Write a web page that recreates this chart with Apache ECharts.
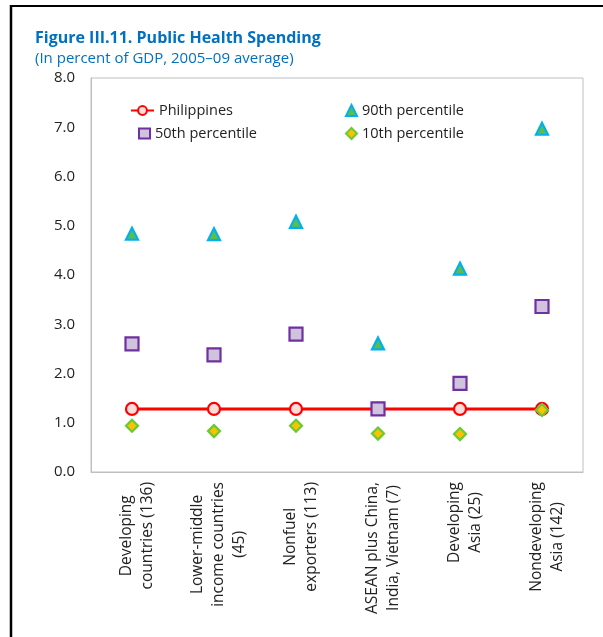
<!DOCTYPE html>
<html><head><meta charset="utf-8">
<script src="https://cdn.jsdelivr.net/npm/echarts@6/dist/echarts.min.js"></script>
<style>html,body{margin:0;padding:0;background:#fff}#c{width:603px;height:637px}</style>
</head><body><div id="c"></div>
<script>
const categories = ["Developing\ncountries (136)", "Lower-middle\nincome countries\n(45)", "Nonfuel\nexporters (113)", "ASEAN plus China,\nIndia, Vietnam (7)", "Developing\nAsia (25)", "Nondeveloping\nAsia (142)"];
const philippines = [1.28, 1.28, 1.28, 1.28, 1.28, 1.28];
const p90 = [4.84, 4.83, 5.08, 2.61, 4.13, 6.97];
const p50 = [2.60, 2.38, 2.80, 1.28, 1.80, 3.36];
const p10 = [0.94, 0.83, 0.94, 0.78, 0.77, 1.26];
const yTicks = ["0.0","1.0","2.0","3.0","4.0","5.0","6.0","7.0","8.0"];

const FONT = "'Open Sans', 'Noto Sans', sans-serif";
const legendText = {fontFamily: FONT, fontSize: 14.5, color: '#222'};
function leg(name, left, top, w, h) {
  return {data: [name], left: left, top: top, padding: 0, itemWidth: w, itemHeight: h, itemGap: 0,
          textStyle: legendText};
}
const chart = echarts.init(document.getElementById('c'), null, {renderer: 'canvas'});
chart.setOption({
  animation: false,
  backgroundColor: '#fff',
  title: {
    text: 'Figure III.11. Public Health Spending',
    subtext: '(In percent of GDP, 2005\u201309 average)',
    left: 30, top: 25, itemGap: 5,
    textStyle: {fontFamily: FONT, fontWeight: 'bold', fontSize: 16, color: '#0070C0'},
    subtextStyle: {fontFamily: FONT, fontSize: 15, color: '#0070C0'}
  },
  graphic: [
    {type: 'line', shape: {x1: 11, y1: 6, x2: 603, y2: 6}, style: {stroke: '#000', lineWidth: 2}},
    {type: 'line', shape: {x1: 11, y1: 5, x2: 11, y2: 637}, style: {stroke: '#000', lineWidth: 2.5}}
  ],
  legend: [
    leg('Philippines', 130, 103, 23, 11),
    leg('50th percentile', 138, 126, 11, 10),
    leg('90th percentile', 345, 103, 11, 11),
    leg('10th percentile', 345, 126, 11, 11)
  ],
  grid: {left: 91, right: 20, top: 78, bottom: 165, show: true, borderColor: '#BFBFBF', borderWidth: 1},
  xAxis: {
    type: 'category', data: categories, boundaryGap: true,
    axisLine: {lineStyle: {color: '#BFBFBF'}}, axisTick: {show: false},
    axisLabel: {
      rotate: 90, margin: 10, interval: 0, color: '#222',
      fontFamily: FONT, fontSize: 15.5, padding: [10, 0, 0, 0],
      formatter: function (v) { return v.split('\n').map(l => '{c|' + l + '}').join('\n'); },
      rich: {c: {align: 'center', fontFamily: FONT, fontSize: 15.5, color: '#222', lineHeight: 21}}
    }
  },
  yAxis: {
    type: 'value', min: 0, max: 8, interval: 1,
    axisLine: {show: true, lineStyle: {color: '#BFBFBF'}}, axisTick: {show: false},
    splitLine: {show: false},
    axisLabel: {margin: 16, color: '#222', fontFamily: FONT, fontSize: 15,
      formatter: function (v) { return yTicks[Math.round(v)]; }}
  },
  series: [
    {name: 'Philippines', type: 'line', data: philippines, symbol: 'circle', symbolSize: 12,
     lineStyle: {color: '#FF0000', width: 3}, z: 2,
     itemStyle: {color: '#FADCDA', borderColor: '#FF0000', borderWidth: 2.2}},
    {name: '90th percentile', type: 'scatter', data: p90, symbol: 'triangle', symbolSize: 12, z: 3,
     itemStyle: {color: '#5BBE47', borderColor: '#00B0F0', borderWidth: 2.2, opacity: 1}},
    {name: '50th percentile', type: 'scatter', data: p50, symbol: 'rect', symbolSize: 13, z: 3,
     itemStyle: {color: '#CFC3DD', borderColor: '#7030A0', borderWidth: 2.2, opacity: 1}},
    {name: '10th percentile', type: 'scatter', data: p10, symbol: 'diamond', symbolSize: 12, z: 4,
     itemStyle: {color: '#FFC000', borderColor: '#66CC33', borderWidth: 2.2, opacity: 1}}
  ]
});
</script></body></html>
